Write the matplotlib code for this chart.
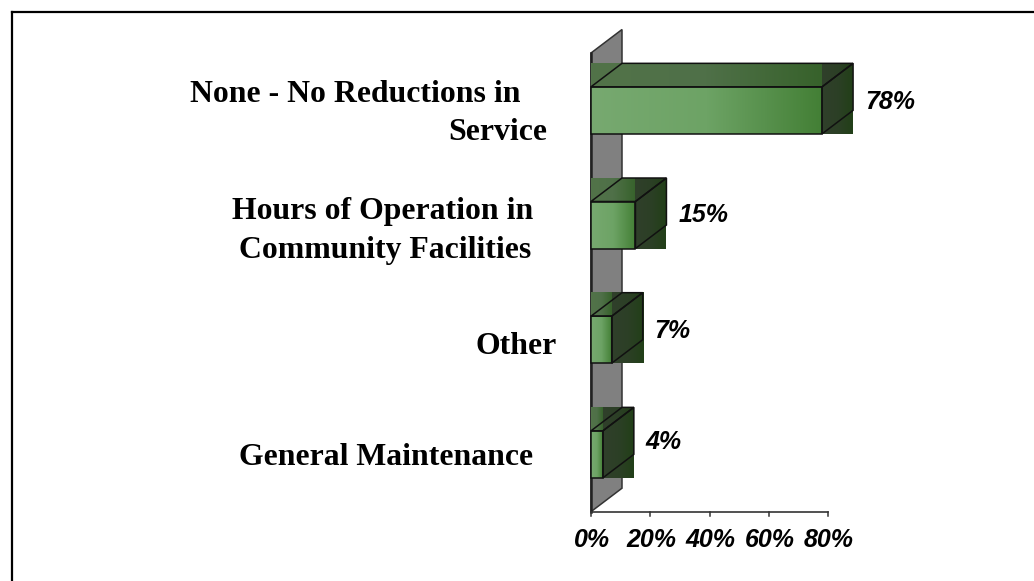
import numpy as np
import matplotlib
matplotlib.use("Agg")
import matplotlib.pyplot as plt
from matplotlib.lines import Line2D
from matplotlib.patches import Polygon, Rectangle
from matplotlib.colors import LinearSegmentedColormap

categories = ["General Maintenance", "Other", "Hours of Operation in\nCommunity Facilities",
              "None - No Reductions in\nService"]
values = [4, 7, 15, 78]
value_labels = ["4%", "7%", "15%", "78%"]
ticks = [0, 20, 40, 60, 80]
tick_labels = ["0%", "20%", "40%", "60%", "80%"]

W, H = 1034, 581
fig = plt.figure(figsize=(W / 100, H / 100), dpi=100, facecolor="white")

# frame: only the top and left edges show
fig.add_artist(Line2D([12 / W, 12 / W], [0, 1 - 12 / H], color="black", lw=1.6, transform=fig.transFigure))
fig.add_artist(Line2D([12 / W, 1], [1 - 12 / H, 1 - 12 / H], color="black", lw=1.6, transform=fig.transFigure))

# front plane of the 3d box
ax = fig.add_axes([591 / W, 1 - 511.7 / H, 237 / W, 458.7 / H])
ax.set_xlim(0, 80)
ax.set_ylim(0, 4)
ax.axis("off")

# depth of the 3d effect in data units
dx = 31 / 2.9625
dy = 23.5 / 114.7
bar_h = 0.41

front_cm = LinearSegmentedColormap.from_list("front", ["#77a970", "#6da365", "#437f35"])
top_cm = LinearSegmentedColormap.from_list("top", ["#527349", "#4f7048", "#37622b"])
side_cm = LinearSegmentedColormap.from_list("side", ["#303f2b", "#2c4026", "#223f18"])
grad = np.linspace(0, 1, 128).reshape(1, -1)


def shade(x0, x1, y0, y1, cmap, z):
    ax.imshow(grad, cmap=cmap, extent=(x0, x1, y0, y1), aspect="auto", clip_on=False, zorder=z)


# back wall
ax.add_patch(Polygon([(0, 0), (dx, dy), (dx, 4 + dy), (0, 4)], closed=True, fc="#808080",
                     ec="#333333", lw=1.1, clip_on=False, zorder=1))
ax.plot([0, 0], [0, 4], color="#222222", lw=1.8, clip_on=False, zorder=1.5)

# baselines of the value labels, in pixels from the top
value_base = [449, 338, 222, 109]
for i, v in enumerate(values):
    lo = i + 0.5 - bar_h / 2
    hi = i + 0.5 + bar_h / 2
    z = 2 + i * 0.01
    shade(0, v, hi, hi + dy, top_cm, z)
    shade(v, v + dx, lo, hi + dy, side_cm, z)
    shade(0, v, lo, hi, front_cm, z)
    outline = dict(fill=False, ec="#111111", lw=1.1, clip_on=False, zorder=z + 0.005)
    ax.add_patch(Rectangle((0, lo), v, bar_h, **outline))
    ax.add_patch(Polygon([(0, hi), (dx, hi + dy), (v + dx, hi + dy), (v, hi)], closed=True, **outline))
    ax.add_patch(Polygon([(v, lo), (v + dx, lo + dy), (v + dx, hi + dy), (v, hi)], closed=True, **outline))
    fig.text((591 + (v + dx) * 2.9625 + 12) / W, 1 - value_base[i] / H, value_labels[i], fontsize=18,
             fontweight="bold", style="italic", family="Liberation Sans", ha="left", va="baseline")

ax.set_xlim(0, 80)
ax.set_ylim(0, 4)

# x axis line and ticks
ax.plot([0, 80], [0, 0], color="#333333", lw=1.2, clip_on=False, zorder=3)
for t, lab in zip(ticks, tick_labels):
    ax.plot([t, t], [0, -0.035], color="#333333", lw=1.1, clip_on=False, zorder=3)
    ax.annotate(lab, (t, 0), xytext=(1, -35), textcoords="offset pixels", fontsize=18,
                fontweight="bold", style="italic", family="Liberation Sans", ha="center",
                va="baseline", annotation_clip=False)

# category labels, laid out line by line
label_right = [533, 557, 533, 521]
line2_right = [None, None, 531, 547]
label_base = [[465], [354], [219, 258], [102, 140]]
for i, cat in enumerate(categories):
    for j, line in enumerate(cat.split("\n")):
        right = label_right[i] if j == 0 else line2_right[i]
        fig.text(right / W, 1 - label_base[i][j] / H, line, fontsize=22.9, fontweight="bold",
                 family="Liberation Serif", ha="right", va="baseline")

fig.savefig("out.png", dpi=100)
